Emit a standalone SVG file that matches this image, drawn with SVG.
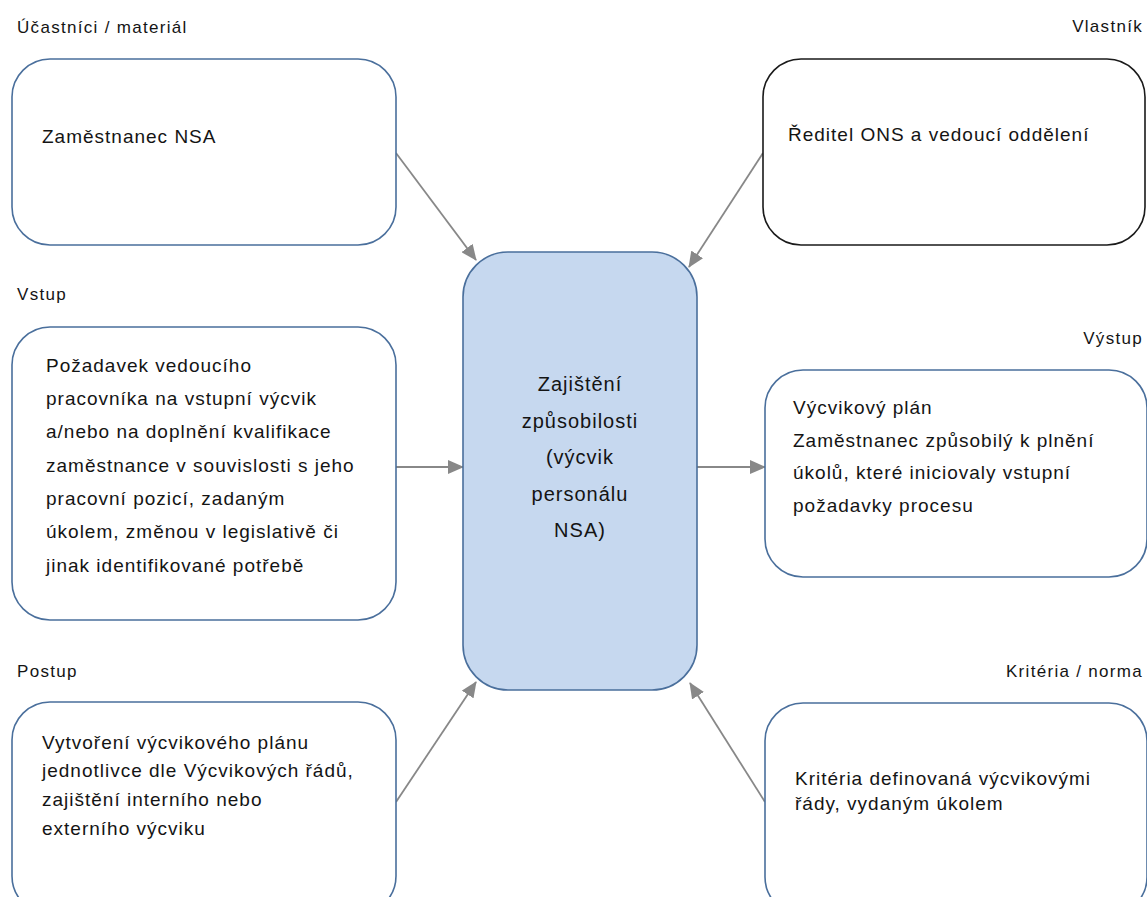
<svg xmlns="http://www.w3.org/2000/svg" width="1147" height="897" viewBox="0 0 1147 897">
<defs>
<style>
.box{fill:#ffffff;stroke:#4a6f9c;stroke-width:1.6}
.boxk{fill:#ffffff;stroke:#1a1a1a;stroke-width:1.6}
.ctr{fill:#c6d8ef;stroke:#4a6f9c;stroke-width:1.6}
.t{font-family:"Liberation Sans",Arial,sans-serif;font-size:19px;letter-spacing:1px;fill:#141414}
.c{font-family:"Liberation Sans",Arial,sans-serif;font-size:20px;letter-spacing:1px;fill:#141414;text-anchor:middle}
.lbl{font-family:"Liberation Sans",Arial,sans-serif;font-size:17px;letter-spacing:1.3px;fill:#141414}
.r{text-anchor:end}
.con{stroke:#888888;stroke-width:1.8;fill:none;marker-end:url(#ah)}
</style>
<marker id="ah" markerUnits="userSpaceOnUse" markerWidth="16" markerHeight="14" refX="15" refY="7" orient="auto">
<path d="M0,0 L16,7 L0,14 z" fill="#888888"/>
</marker>
</defs>

<g id="connectors">
<line class="con" x1="396" y1="153" x2="476" y2="260"/>
<line class="con" x1="763" y1="153" x2="689" y2="267"/>
<line class="con" x1="396" y1="467" x2="463" y2="467"/>
<line class="con" x1="697" y1="467" x2="765" y2="467"/>
<line class="con" x1="396" y1="802" x2="476" y2="682"/>
<line class="con" x1="765" y1="802" x2="690" y2="683"/>
</g>

<g id="center">
<rect class="ctr" x="463" y="252" width="234" height="438" rx="45" ry="45"/>
<text class="c" x="580" y="391">Zajištění</text>
<text class="c" x="580" y="428">způsobilosti</text>
<text class="c" x="580" y="464">(výcvik</text>
<text class="c" x="580" y="501">personálu</text>
<text class="c" x="580" y="537">NSA)</text>
</g>

<g id="ucastnici">
<text class="lbl" x="17" y="33">Účastníci / materiál</text>
<rect class="box" x="12" y="59" width="384" height="186" rx="38" ry="38"/>
<text class="t" x="42" y="143">Zaměstnanec NSA</text>
</g>

<g id="vlastnik">
<text class="lbl r" x="1143" y="32">Vlastník</text>
<rect class="boxk" x="763" y="59" width="382" height="186" rx="38" ry="38"/>
<text class="t" x="788" y="141">Ředitel ONS a vedoucí oddělení</text>
</g>

<g id="vstup">
<text class="lbl" x="17" y="300">Vstup</text>
<rect class="box" x="12" y="327" width="384" height="293" rx="38" ry="38"/>
<text class="t" x="46" y="372">Požadavek vedoucího</text>
<text class="t" x="46" y="405">pracovníka na vstupní výcvik</text>
<text class="t" x="46" y="438">a/nebo na doplnění kvalifikace</text>
<text class="t" x="46" y="472">zaměstnance v souvislosti s jeho</text>
<text class="t" x="46" y="505">pracovní pozicí, zadaným</text>
<text class="t" x="46" y="538">úkolem, změnou v legislativě či</text>
<text class="t" x="46" y="572">jinak identifikované potřebě</text>
</g>

<g id="vystup">
<text class="lbl r" x="1143" y="344">Výstup</text>
<rect class="box" x="765" y="370" width="382" height="207" rx="38" ry="38"/>
<text class="t" x="793" y="414">Výcvikový plán</text>
<text class="t" x="793" y="447">Zaměstnanec způsobilý k plnění</text>
<text class="t" x="793" y="479">úkolů, které iniciovaly vstupní</text>
<text class="t" x="793" y="512">požadavky procesu</text>
</g>

<g id="postup">
<text class="lbl" x="17" y="677">Postup</text>
<rect class="box" x="12" y="702" width="384" height="212" rx="38" ry="38"/>
<text class="t" x="42" y="749">Vytvoření výcvikového plánu</text>
<text class="t" x="42" y="777">jednotlivce dle Výcvikových řádů,</text>
<text class="t" x="42" y="806">zajištění interního nebo</text>
<text class="t" x="42" y="835">externího výcviku</text>
</g>

<g id="kriteria">
<text class="lbl r" x="1143" y="677">Kritéria / norma</text>
<rect class="box" x="765" y="703" width="382" height="212" rx="38" ry="38"/>
<text class="t" x="795" y="785">Kritéria definovaná výcvikovými</text>
<text class="t" x="795" y="810">řády, vydaným úkolem</text>
</g>
</svg>
